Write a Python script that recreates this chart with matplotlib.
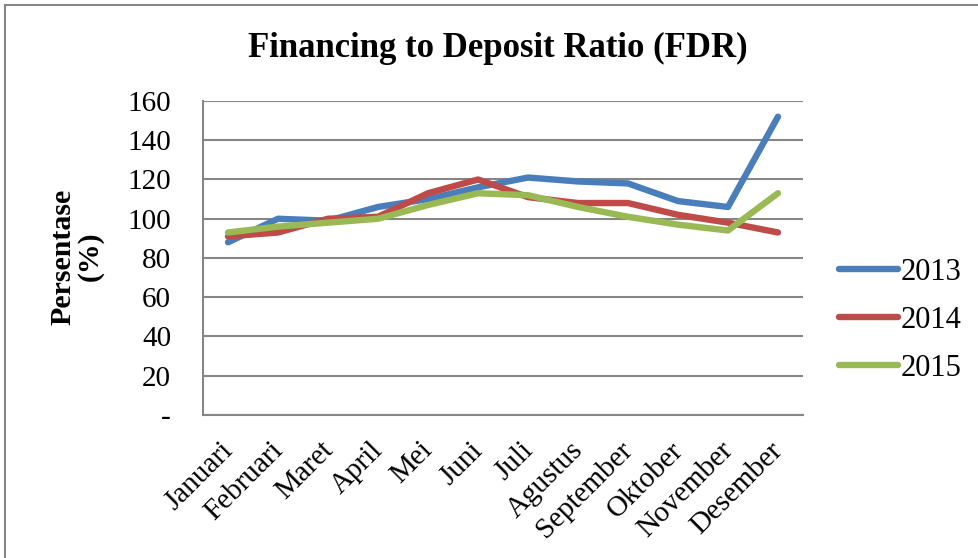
import matplotlib.pyplot as plt
import matplotlib.transforms as mtransforms
from matplotlib.patches import Rectangle

# data FDR per bulan (%)
bulan = ['Januari', 'Februari', 'Maret', 'April', 'Mei', 'Juni', 'Juli',
         'Agustus', 'September', 'Oktober', 'November', 'Desember']
fdr_2013 = [88, 100, 99, 106, 110, 116, 121, 119, 118, 109, 106, 152]
fdr_2014 = [91, 93, 100, 101, 113, 120, 111, 108, 108, 102, 98, 93]
fdr_2015 = [93, 96, 98, 100, 107, 113, 112, 106, 101, 97, 94, 113]
y_ticks = [0, 20, 40, 60, 80, 100, 120, 140, 160]
y_labels = ['-', '20', '40', '60', '80', '100', '120', '140', '160']

plt.rcParams['font.family'] = ['Liberation Serif', 'DejaVu Serif']

fig = plt.figure(figsize=(9.79, 5.58), dpi=100)
ax = fig.add_axes([0.2074, 0.2563, 0.6128, 0.5627])

# bingkai luar
fig.patches.append(Rectangle((5 / 979, -0.05), 1.1, 553 / 558 + 0.05,
                             transform=fig.transFigure, fill=False,
                             edgecolor='#868686', linewidth=1.5, zorder=0))

x = range(len(bulan))
ax.plot(x, fdr_2013, color='#4A7EBB', lw=4.6, solid_capstyle='round', label='2013', zorder=3)
ax.plot(x, fdr_2014, color='#BE4B48', lw=4.6, solid_capstyle='round', label='2014', zorder=3)
ax.plot(x, fdr_2015, color='#98B954', lw=4.6, solid_capstyle='round', label='2015', zorder=3)

ax.set_xlim(-0.5, len(bulan) - 0.5)
ax.set_ylim(0, 160)
ax.set_yticks(y_ticks)
ax.set_yticklabels(y_labels, fontsize=21)
ax.set_xticks(list(x))
ax.set_xticklabels(bulan, fontsize=21, rotation=45, ha='right', rotation_mode='anchor')
ax.tick_params(axis='both', length=0)
ax.tick_params(axis='y', pad=23)
ax.tick_params(axis='x', pad=16)

# geser label bulan sedikit ke kiri
shift = mtransforms.ScaledTranslation(-6 / 72, 0, fig.dpi_scale_trans)
for lbl in ax.get_xticklabels():
    lbl.set_transform(lbl.get_transform() + shift)

ax.grid(axis='y', color='#868686', lw=1.5)
ax.set_axisbelow(True)
for s in ['top', 'right']:
    ax.spines[s].set_visible(False)
for s in ['left', 'bottom']:
    ax.spines[s].set_color('#868686')
    ax.spines[s].set_linewidth(1.5)

ax.set_ylabel('Persentase\n(%)', fontsize=21.5, fontweight='bold', linespacing=1.0)
ax.yaxis.set_label_coords(-0.165, 0.505)

fig.text(0.509, 0.914, 'Financing to Deposit Ratio (FDR)', ha='center', va='center',
         fontsize=25, fontweight='bold')

ax.legend(loc='center left', bbox_to_anchor=(1.015, 0.302), frameon=False, fontsize=22,
          handlelength=1.9, handletextpad=0.1, labelspacing=0.62)

fig.savefig('out.png', dpi=100)
